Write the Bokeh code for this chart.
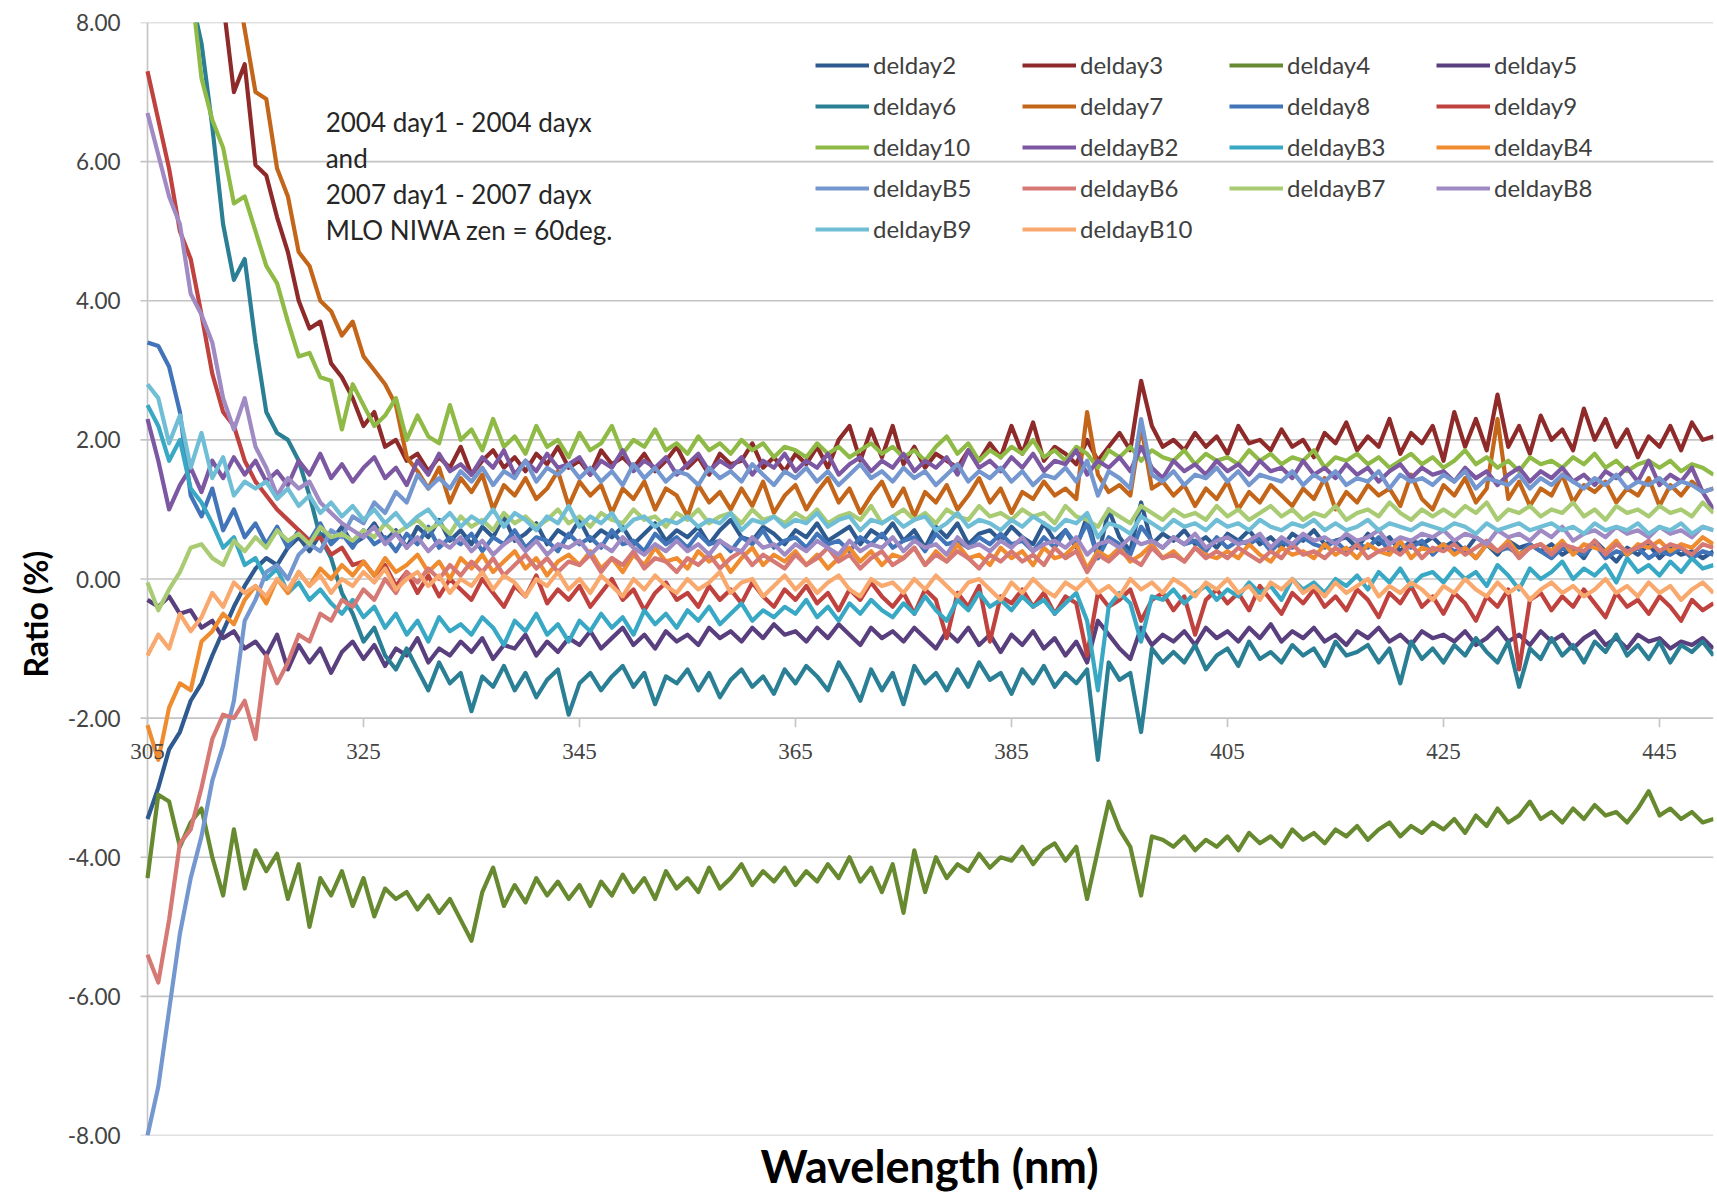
from bokeh.plotting import figure
from bokeh.models import (Range1d, FixedTicker, NumeralTickFormatter, Legend, LegendItem,
                          Label, LabelSet, ColumnDataSource, Title)
from bokeh.embed import file_html
from bokeh.resources import INLINE

FONT = "Lato"

WAVELENGTH = list(range(305, 451))
X_TICKS = [305, 325, 345, 365, 385, 405, 425, 445]
X_TICK_LABELS = ["305", "325", "345", "365", "385", "405", "425", "445"]
Y_TICKS = [-8, -6, -4, -2, 0, 2, 4, 6, 8]
AXIS_CROSS = -2.0

NAMES = ["delday2", "delday3", "delday4", "delday5", "delday6", "delday7",
         "delday8", "delday9", "delday10", "deldayB2", "deldayB3", "deldayB4",
         "deldayB5", "deldayB6", "deldayB7", "deldayB8", "deldayB9", "deldayB10"]
COLORS = ["#2F5A8F", "#8E2B2A", "#678A30", "#5A3F7E", "#2B7F95", "#C4661A",
          "#4174B8", "#C0423F", "#8EBA45", "#7C58A2", "#38A8C4", "#F08C30",
          "#7497D0", "#D67874", "#A9CB74", "#A08AC4", "#6FBED6", "#F9A86E"]

delday2 = [
    -3.45, -3.0, -2.45, -2.2, -1.75, -1.5, -1.1, -0.75, -0.4, -0.1,
    0.15, 0.3, 0.2, 0.45, 0.6, 0.4, 0.65, 0.55, 0.75, 0.5,
    0.6, 0.8, 0.55, 0.7, 0.45, 0.75, 0.6, 0.85, 0.55, 0.7,
    0.5, 0.75, 0.6, 0.9, 0.55, 0.65, 0.8, 0.5, 0.7, 0.6,
    0.85, 0.55, 0.7, 0.6, 0.75, 0.5, 0.65, 0.8, 0.55, 0.7,
    0.6, 0.75, 0.5, 0.7, 0.85, 0.6, 0.55, 0.75, 0.65, 0.5,
    0.7, 0.6, 0.8, 0.55, 0.65, 0.75, 0.5, 0.7, 0.6, 0.8,
    0.55, 0.7, 0.45, 0.75, 0.6, 0.8, 0.5, 0.65, 0.7, 0.55,
    0.75, 0.6, 0.5, 0.8, 0.55, 0.7, 0.45, 0.9, 0.3, 1.0,
    0.6, 0.4, 1.1, 0.5, 0.65, 0.55, 0.7, 0.5, 0.6, 0.45,
    0.65, 0.55, 0.7, 0.5, 0.6, 0.45, 0.65, 0.55, 0.7, 0.5,
    0.55, 0.6, 0.45, 0.65, 0.5, 0.6, 0.4, 0.55, 0.5, 0.6,
    0.45, 0.55, 0.4, 0.6, 0.5, 0.35, 0.55, 0.45, 0.5, 0.4,
    0.5, 0.35, 0.45, 0.3, 0.55, 0.4, 0.25, 0.45, 0.35, 0.5,
    0.3, 0.45, 0.35, 0.4, 0.3, 0.4]

delday3 = [
    13.5, 12.8, 12.0, 11.2, 10.4, 9.6, 8.9, 8.3, 7.0, 7.4,
    5.95, 5.8, 5.2, 4.7, 4.0, 3.6, 3.7, 3.1, 2.9, 2.6,
    2.2, 2.4, 1.9, 2.0, 1.7, 1.8, 1.55, 1.75, 1.6, 1.9,
    1.5, 1.7, 1.85, 1.6, 1.75, 1.55, 1.8, 1.65, 1.9, 1.6,
    1.7, 1.5, 1.85, 1.65, 1.75, 1.6, 1.8, 1.55, 1.7, 1.9,
    1.6, 1.75, 1.5, 1.8, 1.65, 1.7, 1.95, 1.6, 1.75, 1.55,
    1.8, 1.65, 1.9, 1.6, 2.0, 2.2, 1.7, 2.15, 1.75, 2.2,
    1.65, 1.9, 1.6, 1.8, 1.7, 1.6, 1.85, 1.7, 1.95, 1.75,
    2.2, 1.8, 2.25, 1.7, 1.9, 1.8, 1.65, 2.0, 1.7, 1.9,
    2.1, 1.85, 2.85, 2.2, 1.9, 2.0, 1.85, 2.1, 1.9, 2.05,
    1.8, 2.2, 1.95, 2.0, 1.85, 2.15, 1.9, 2.0, 1.75, 2.1,
    1.95, 2.25, 1.85, 2.05, 1.9, 2.3, 1.8, 2.1, 1.95, 2.2,
    1.7, 2.4, 1.9, 2.3, 1.85, 2.65, 1.9, 2.2, 1.8, 2.35,
    2.0, 2.15, 1.85, 2.45, 2.0, 2.3, 1.9, 2.15, 1.75, 2.05,
    1.9, 2.2, 1.85, 2.25, 2.0, 2.05]

delday4 = [
    -4.3, -3.1, -3.2, -3.85, -3.5, -3.3, -4.0, -4.55, -3.6, -4.45,
    -3.9, -4.2, -3.95, -4.6, -4.1, -5.0, -4.3, -4.55, -4.2, -4.7,
    -4.3, -4.85, -4.45, -4.6, -4.5, -4.75, -4.55, -4.8, -4.6, -4.9,
    -5.2, -4.5, -4.15, -4.7, -4.4, -4.65, -4.3, -4.55, -4.35, -4.6,
    -4.4, -4.7, -4.35, -4.55, -4.25, -4.5, -4.3, -4.6, -4.2, -4.45,
    -4.3, -4.5, -4.15, -4.45, -4.3, -4.1, -4.4, -4.2, -4.35, -4.15,
    -4.4, -4.2, -4.35, -4.1, -4.3, -4.0, -4.35, -4.15, -4.5, -4.1,
    -4.8, -3.9, -4.5, -4.0, -4.3, -4.1, -4.2, -3.95, -4.15, -4.0,
    -4.05, -3.85, -4.1, -3.9, -3.8, -4.05, -3.85, -4.6, -3.9, -3.2,
    -3.6, -3.85, -4.55, -3.7, -3.75, -3.85, -3.7, -3.9, -3.75, -3.85,
    -3.7, -3.9, -3.65, -3.8, -3.7, -3.85, -3.6, -3.75, -3.65, -3.8,
    -3.6, -3.7, -3.55, -3.75, -3.6, -3.5, -3.7, -3.55, -3.65, -3.5,
    -3.6, -3.45, -3.65, -3.4, -3.55, -3.3, -3.5, -3.4, -3.2, -3.45,
    -3.35, -3.5, -3.3, -3.45, -3.25, -3.4, -3.35, -3.5, -3.3, -3.05,
    -3.4, -3.3, -3.45, -3.35, -3.5, -3.45]

delday5 = [
    -0.3, -0.4, -0.25, -0.5, -0.45, -0.7, -0.6, -0.85, -0.75, -1.0,
    -0.9, -1.1, -0.8, -1.3, -0.95, -1.2, -1.0, -1.35, -1.05, -0.9,
    -1.15, -0.95, -1.25, -1.0, -1.1, -0.85, -1.2, -1.0, -1.1, -0.9,
    -1.05, -0.85, -1.15, -0.95, -1.0, -0.8, -1.1, -0.9, -1.05, -0.85,
    -0.95, -0.75, -1.0, -0.85, -0.7, -0.95, -0.8, -1.0, -0.75, -0.9,
    -0.8, -0.95, -0.7, -0.85, -0.75, -0.9, -0.7, -0.85, -0.65, -0.8,
    -0.75, -0.9, -0.7, -0.85, -0.65, -0.8, -0.95, -0.7, -0.85, -0.75,
    -0.9, -0.7, -0.85, -1.0, -0.75, -0.9, -0.7, -0.95, -0.8, -1.05,
    -0.8, -0.95, -0.75, -1.0, -0.85, -1.1, -0.9, -1.2, -0.6, -0.8,
    -1.0, -1.15, -0.7, -0.95, -0.8, -0.9, -0.75, -0.95, -0.7, -0.85,
    -0.75, -0.9, -0.7, -0.85, -0.65, -0.9, -0.75, -0.85, -0.7, -0.9,
    -0.8, -0.95, -0.75, -0.85, -0.7, -0.9, -0.8, -0.95, -0.75, -0.85,
    -0.8, -0.9, -0.75, -0.95, -0.85, -0.7, -0.9, -0.8, -0.95, -0.75,
    -0.9, -0.8, -1.0, -0.85, -0.75, -0.95, -0.85, -1.0, -0.8, -0.9,
    -0.85, -1.0, -0.9, -0.95, -0.85, -1.0]

delday6 = [
    12.5, 11.6, 10.7, 9.8, 8.4, 7.7, 6.5, 5.1, 4.3, 4.6,
    3.4, 2.4, 2.1, 2.0, 1.7, 1.2, 0.6, 0.3, -0.2, -0.5,
    -0.9, -0.7, -1.1, -1.3, -1.0, -1.3, -1.6, -1.2, -1.5, -1.35,
    -1.9, -1.4, -1.55, -1.25, -1.6, -1.35, -1.7, -1.45, -1.3, -1.95,
    -1.5, -1.35, -1.6, -1.4, -1.25, -1.55, -1.35, -1.8, -1.4, -1.5,
    -1.3, -1.6, -1.35, -1.7, -1.45, -1.3, -1.55, -1.4, -1.65, -1.3,
    -1.5, -1.25, -1.4, -1.6, -1.2, -1.45, -1.75, -1.3, -1.6, -1.35,
    -1.8, -1.25, -1.5, -1.35, -1.6, -1.3, -1.55, -1.2, -1.45, -1.35,
    -1.65, -1.3, -1.5, -1.25, -1.55, -1.35, -1.5, -1.3, -2.6, -1.2,
    -1.45, -1.35, -2.2, -1.0, -1.2, -1.05, -1.2, -0.95, -1.3, -1.1,
    -1.0, -1.25, -0.9, -1.15, -1.05, -1.2, -0.95, -1.1, -1.0, -1.25,
    -0.9, -1.1, -1.05, -0.95, -1.2, -1.0, -1.5, -0.9, -1.15, -1.0,
    -1.2, -0.95, -1.1, -0.85, -1.05, -1.2, -0.9, -1.55, -1.0, -1.15,
    -0.85, -1.1, -0.95, -1.2, -0.9, -1.05, -0.8, -1.1, -0.95, -1.15,
    -0.9, -1.2, -0.95, -1.05, -0.9, -1.1]

delday7 = [
    16.0, 15.0, 14.0, 13.0, 12.2, 11.3, 10.4, 9.6, 8.8, 7.9,
    7.0, 6.9, 5.9, 5.5, 4.7, 4.5, 4.0, 3.85, 3.5, 3.7,
    3.2, 3.0, 2.8, 2.5, 1.75, 1.55, 1.3, 1.6, 1.1, 1.45,
    1.25, 1.5, 1.0, 1.35, 1.2, 1.45, 1.15, 1.3, 1.55, 1.05,
    1.4, 1.2, 1.35, 0.95, 1.3, 1.15, 1.4, 1.0, 1.3, 1.2,
    0.9, 1.35, 1.1, 1.25, 1.0, 1.3, 1.05, 1.4, 0.95, 1.2,
    1.35, 1.0, 1.25, 1.45, 1.1, 1.3, 0.95, 1.2, 1.4, 1.05,
    1.3, 0.9, 1.25, 1.1, 1.35, 1.0, 1.2, 1.45, 1.1, 1.3,
    0.95, 1.25, 1.15, 1.4, 1.2, 1.3, 1.15, 2.4, 1.5, 1.25,
    1.35, 1.2, 2.2, 1.3, 1.4, 1.2, 1.35, 1.05, 1.3, 1.15,
    1.4, 1.0, 1.25, 1.1, 1.35, 1.2, 1.05, 1.3, 1.15, 1.45,
    1.0, 1.25, 1.1, 1.35, 1.2, 1.3, 1.05, 1.5, 1.15, 1.0,
    1.35, 1.2, 1.45, 1.1, 1.3, 2.3, 1.15, 1.4, 1.05, 1.3,
    1.2, 1.5, 1.1, 1.35, 1.25, 1.4, 1.1, 1.3, 1.2, 1.45,
    1.05, 1.35, 1.2, 1.4, 1.25, 1.3]

delday8 = [
    3.4, 3.35, 3.05, 2.4, 1.2, 0.9, 1.3, 0.7, 1.0, 0.6,
    0.8, 0.5, 0.75, 0.45, 0.7, 0.55, 0.8, 0.5, 0.65, 0.45,
    0.7, 0.5, 0.6, 0.4, 0.65, 0.5, 0.75, 0.45, 0.6, 0.5,
    0.65, 0.4, 0.6, 0.5, 0.7, 0.45, 0.6, 0.55, 0.4, 0.65,
    0.5, 0.6, 0.45, 0.7, 0.5, 0.55, 0.4, 0.65, 0.5, 0.6,
    0.45, 0.65, 0.5, 0.55, 0.4, 0.6, 0.5, 0.7, 0.45, 0.55,
    0.6, 0.45, 0.65, 0.5, 0.55, 0.4, 0.6, 0.5, 0.65, 0.45,
    0.55, 0.6, 0.4, 0.65, 0.5, 0.55, 0.45, 0.6, 0.5, 0.65,
    0.5, 0.55, 0.4, 0.6, 0.45, 0.7, 0.5, 0.8, 0.3, 0.6,
    0.5, 0.35, 0.75, 0.55, 0.45, 0.6, 0.5, 0.55, 0.4, 0.6,
    0.45, 0.55, 0.5, 0.6, 0.4, 0.55, 0.45, 0.6, 0.5, 0.45,
    0.55, 0.4, 0.5, 0.45, 0.6, 0.4, 0.5, 0.45, 0.55, 0.35,
    0.5, 0.4, 0.45, 0.3, 0.5, 0.4, 0.45, 0.35, 0.5, 0.4,
    0.3, 0.45, 0.4, 0.35, 0.5, 0.3, 0.4, 0.35, 0.45, 0.3,
    0.4, 0.35, 0.45, 0.3, 0.4, 0.35]

delday9 = [
    7.3, 6.6, 5.9, 5.0, 4.6, 3.8, 2.95, 2.4, 2.2, 1.7,
    1.4, 1.2, 1.0, 0.85, 0.7, 0.55, 0.6, 0.35, 0.45, 0.2,
    0.25, 0.05, 0.2, -0.1, 0.1, -0.2, 0.05, -0.25, 0.0, -0.15,
    -0.3, 0.0, -0.2, -0.4, -0.1, -0.25, 0.05, -0.35, -0.15, -0.3,
    -0.1, -0.4, -0.2, 0.0, -0.3, -0.15, -0.45, -0.2, -0.05, -0.3,
    -0.2, -0.4, -0.1, -0.3, -0.15, -0.35, -0.05, -0.25, -0.4, -0.15,
    -0.3, -0.1, -0.35, -0.2, -0.45, -0.15, -0.3, -0.05, -0.25, -0.4,
    -0.2, -0.5, -0.15, -0.3, -0.85, -0.2, -0.4, -0.1, -0.9, -0.25,
    -0.35, -0.15, -0.4, -0.2, -0.5, -0.25, -0.35, -1.1, -0.2, -0.4,
    -0.3, -0.15, -0.6, -0.3, -0.2, -0.45, -0.25, -0.8, -0.3, -0.15,
    -0.35, -0.2, -0.45, -0.1, -0.3, -0.5, -0.2, -0.35, -0.15, -0.4,
    -0.25, -0.45, -0.15, -0.3, -0.55, -0.2, -0.35, -0.1, -0.4, -0.25,
    -0.5, -0.2, -0.35, -0.6, -0.25, -0.4, -0.15, -1.3, -0.3, -0.2,
    -0.45, -0.25, -0.4, -0.15, -0.35, -0.55, -0.2, -0.4, -0.3, -0.5,
    -0.25, -0.4, -0.6, -0.3, -0.45, -0.35]

delday10 = [
    12.8, 11.8, 10.8, 9.8, 8.6, 7.2, 6.6, 6.2, 5.4, 5.5,
    5.0, 4.5, 4.25, 3.7, 3.2, 3.25, 2.9, 2.85, 2.15, 2.8,
    2.5, 2.2, 2.35, 2.6, 2.0, 2.35, 2.05, 1.95, 2.5, 2.0,
    2.15, 1.85, 2.3, 1.9, 2.05, 1.8, 2.2, 1.9, 2.0, 1.75,
    2.1, 1.85, 1.95, 2.2, 1.8, 2.0, 1.9, 2.15, 1.85, 1.95,
    1.8, 2.05, 1.85, 1.95, 1.8, 2.0, 1.85, 1.95, 1.75, 1.9,
    1.85, 1.75, 1.95, 1.8, 1.9, 1.75, 1.85, 1.95, 1.8, 1.9,
    1.75, 1.85, 1.7, 1.9, 2.05, 1.8, 1.95, 1.7, 1.85, 1.75,
    1.9, 1.8, 2.0, 1.75, 1.85, 1.7, 1.9, 1.8, 1.6, 1.85,
    1.75, 1.9, 1.7, 1.85, 1.75, 1.7, 1.85, 1.65, 1.8, 1.7,
    1.75, 1.65, 1.85, 1.7, 1.8, 1.65, 1.75, 1.7, 1.85, 1.6,
    1.75, 1.7, 1.8, 1.65, 1.75, 1.6, 1.7, 1.8, 1.65, 1.75,
    1.6, 1.7, 1.85, 1.65, 1.75, 1.6, 1.7, 1.55, 1.75, 1.65,
    1.7, 1.6, 1.75, 1.65, 1.8, 1.6, 1.7, 1.55, 1.65, 1.7,
    1.6, 1.7, 1.55, 1.65, 1.6, 1.5]

deldayB2 = [
    2.3, 1.7, 1.0, 1.35, 1.6, 1.25, 1.7, 1.45, 1.75, 1.5,
    1.7, 1.4, 1.55, 1.35, 1.7, 1.5, 1.8, 1.45, 1.65, 1.4,
    1.6, 1.75, 1.45, 1.6, 1.35, 1.7, 1.5, 1.8, 1.55, 1.65,
    1.5, 1.75, 1.6, 1.85, 1.5, 1.7, 1.55, 1.8, 1.6, 1.65,
    1.75, 1.5, 1.7, 1.6, 1.85, 1.55, 1.7, 1.6, 1.75, 1.5,
    1.65, 1.8, 1.55, 1.7, 1.6, 1.75, 1.5, 1.7, 1.6, 1.8,
    1.55, 1.7, 1.6, 1.8, 1.5, 1.65, 1.75, 1.55, 1.7, 1.6,
    1.8, 1.55, 1.7, 1.6, 1.75, 1.5, 1.85, 1.6, 1.7, 1.55,
    1.75, 1.6, 1.8, 1.55, 1.7, 1.65, 1.85, 1.5, 1.7, 1.6,
    1.75, 1.55, 1.9, 1.6, 1.45, 1.7, 1.55, 1.65, 1.5, 1.7,
    1.55, 1.65, 1.5, 1.7, 1.55, 1.6, 1.45, 1.7, 1.5, 1.6,
    1.45, 1.65, 1.5, 1.6, 1.4, 1.55, 1.65, 1.45, 1.6, 1.5,
    1.55, 1.4, 1.6, 1.45, 1.55, 1.35, 1.5, 1.6, 1.4, 1.55,
    1.45, 1.6, 1.4, 1.5, 1.35, 1.55, 1.45, 1.6, 1.4, 1.7,
    1.35, 1.5, 1.4, 1.6, 1.25, 1.0]

deldayB3 = [
    2.5, 2.2, 1.7, 2.0, 1.3, 1.1, 0.8, 0.45, 0.6, 0.2,
    0.3, 0.0, 0.15, -0.2, -0.05, -0.3, -0.15, -0.35, -0.5, -0.3,
    -0.55, -0.4, -0.7, -0.5, -0.8, -0.6, -0.9, -0.55, -0.75, -0.65,
    -0.8, -0.55, -0.7, -0.95, -0.6, -0.75, -0.5, -0.8, -0.65, -0.9,
    -0.6, -0.75, -0.5, -0.7, -0.55, -0.8, -0.45, -0.65, -0.5, -0.7,
    -0.45, -0.6, -0.4, -0.65, -0.5, -0.35, -0.6, -0.45, -0.55, -0.4,
    -0.5, -0.3, -0.55, -0.4, -0.6, -0.35, -0.5, -0.3, -0.45, -0.55,
    -0.35, -0.5, -0.25, -0.45, -0.6, -0.3, -0.45, -0.2, -0.4, -0.3,
    -0.45, -0.25, -0.4, -0.3, -0.5, -0.35, -0.2, -0.6, -1.6, -0.4,
    -0.2, -0.35, -0.9, -0.25, -0.3, -0.15, -0.35, -0.2, -0.1, -0.3,
    -0.15, -0.25, -0.05, -0.2, -0.1, -0.3, 0.0, -0.15, -0.05, -0.2,
    0.0, -0.1, 0.05, -0.15, 0.1, -0.05, 0.15, -0.1, 0.05, 0.1,
    -0.05, 0.15, 0.0, 0.1, -0.1, 0.2, 0.05, -0.15, 0.15, 0.0,
    0.1, 0.25, 0.0, 0.15, 0.05, 0.2, -0.05, 0.3, 0.1, 0.2,
    0.05, 0.25, 0.1, 0.3, 0.15, 0.2]

deldayB4 = [
    -2.1, -2.6, -1.85, -1.5, -1.6, -0.9, -0.75, -0.5, -0.65, -0.3,
    -0.1, -0.35, 0.0, -0.2, 0.1, -0.1, 0.15, 0.0, 0.2, 0.05,
    0.25, 0.05, 0.3, 0.1, 0.2, 0.35, 0.1, 0.25, 0.0, 0.3,
    0.15, 0.35, 0.1, 0.25, 0.4, 0.15, 0.3, 0.05, 0.25, 0.35,
    0.2, 0.4, 0.15, 0.3, 0.1, 0.35, 0.2, 0.45, 0.25, 0.3,
    0.15, 0.4, 0.25, 0.35, 0.1, 0.3, 0.45, 0.2, 0.35, 0.25,
    0.4, 0.2, 0.35, 0.15, 0.3, 0.45, 0.25, 0.4, 0.2, 0.35,
    0.3, 0.45, 0.2, 0.4, 0.25, 0.5, 0.3, 0.35, 0.2, 0.45,
    0.3, 0.4, 0.2, 0.45, 0.3, 0.35, 0.5, 0.15, 0.4, 0.3,
    0.45, 0.25, 0.35, 0.5, 0.3, 0.4, 0.25, 0.45, 0.35, 0.3,
    0.4, 0.3, 0.5, 0.35, 0.25, 0.45, 0.35, 0.4, 0.3, 0.5,
    0.35, 0.45, 0.3, 0.5, 0.4, 0.35, 0.55, 0.3, 0.45, 0.4,
    0.5, 0.35, 0.45, 0.3, 0.5, 0.4, 0.55, 0.35, 0.45, 0.5,
    0.4, 0.55, 0.35, 0.5, 0.45, 0.4, 0.55, 0.35, 0.5, 0.45,
    0.55, 0.4, 0.5, 0.45, 0.6, 0.5]

deldayB5 = [
    -8.0, -7.3, -6.2, -5.1, -4.3, -3.7, -2.9, -2.4, -1.75, -0.6,
    -0.3, 0.1, 0.2, 0.0, 0.35, 0.5, 0.4, 0.7, 0.6, 0.9,
    0.8, 1.1, 0.95, 1.25, 1.1, 1.5, 1.3, 1.45, 1.3, 1.55,
    1.4, 1.6, 1.35, 1.55, 1.45, 1.7, 1.4, 1.6, 1.5, 1.65,
    1.45, 1.6, 1.4, 1.55, 1.35, 1.65, 1.45, 1.6, 1.4, 1.55,
    1.5, 1.35, 1.6, 1.45, 1.55, 1.4, 1.65, 1.5, 1.35, 1.55,
    1.45, 1.6, 1.4, 1.55, 1.35, 1.5, 1.65, 1.45, 1.55, 1.4,
    1.6, 1.45, 1.55, 1.35, 1.5, 1.65, 1.4, 1.55, 1.45, 1.6,
    1.4, 1.55, 1.35, 1.5, 1.45, 1.6, 1.4, 1.7, 1.2, 1.55,
    1.45, 1.3, 2.3, 1.5, 1.4, 1.55, 1.35, 1.5, 1.45, 1.6,
    1.4, 1.55, 1.35, 1.5, 1.45, 1.4, 1.55, 1.35, 1.5, 1.4,
    1.55, 1.35, 1.45, 1.4, 1.55, 1.3, 1.5, 1.4, 1.45, 1.35,
    1.5, 1.4, 1.55, 1.3, 1.45, 1.4, 1.35, 1.5, 1.3, 1.45,
    1.35, 1.5, 1.4, 1.3, 1.45, 1.35, 1.5, 1.3, 1.4, 1.35,
    1.45, 1.3, 1.4, 1.35, 1.25, 1.3]

deldayB6 = [
    -5.4, -5.8, -4.9, -3.8, -3.6, -3.0, -2.3, -1.95, -2.0, -1.75,
    -2.3, -1.1, -1.5, -1.2, -0.8, -0.9, -0.5, -0.6, -0.3, -0.4,
    -0.15, -0.3, 0.0, -0.2, 0.1, -0.05, 0.15, 0.0, 0.2, 0.05,
    0.25, 0.1, 0.3, 0.05, 0.2, 0.35, 0.15, 0.3, 0.1, 0.25,
    0.2, 0.35, 0.1, 0.3, 0.2, 0.4, 0.15, 0.3, 0.25, 0.1,
    0.3, 0.2, 0.35, 0.15, 0.3, 0.4, 0.2, 0.35, 0.25, 0.15,
    0.35, 0.2, 0.3, 0.45, 0.25, 0.35, 0.15, 0.3, 0.4, 0.2,
    0.3, 0.45, 0.2, 0.35, 0.25, 0.4, 0.3, 0.15, 0.35, 0.25,
    0.4, 0.25, 0.35, 0.2, 0.45, 0.3, 0.4, 0.1, 0.35, 0.25,
    0.4, 0.3, 0.2, 0.45, 0.3, 0.35, 0.25, 0.45, 0.3, 0.4,
    0.3, 0.45, 0.35, 0.25, 0.4, 0.3, 0.5, 0.35, 0.4, 0.3,
    0.45, 0.35, 0.5, 0.3, 0.4, 0.45, 0.35, 0.5, 0.3, 0.45,
    0.4, 0.5, 0.35, 0.45, 0.55, 0.4, 0.5, 0.3, 0.45, 0.5,
    0.35, 0.5, 0.45, 0.4, 0.55, 0.35, 0.5, 0.4, 0.45, 0.55,
    0.4, 0.5, 0.45, 0.35, 0.5, 0.45]

deldayB7 = [
    -0.05, -0.45, -0.15, 0.1, 0.45, 0.5, 0.3, 0.2, 0.55, 0.4,
    0.6, 0.45, 0.7, 0.55, 0.65, 0.5, 0.75, 0.6, 0.65, 0.55,
    0.7, 0.6, 0.8, 0.65, 0.75, 0.85, 0.7, 0.8, 0.65, 0.9,
    0.75, 0.85, 0.7, 0.95, 0.8, 0.9, 0.75, 0.85, 1.0, 0.8,
    0.9, 0.75, 0.95, 0.85, 0.8, 1.0, 0.85, 0.9, 0.75, 0.95,
    0.85, 1.0, 0.8, 0.9, 0.95, 0.8, 1.0, 0.85, 0.9, 0.8,
    0.95, 0.85, 1.0, 0.8, 0.9, 0.95, 0.85, 1.05, 0.8, 0.9,
    1.0, 0.85, 0.95, 0.8, 1.0, 0.9, 0.85, 1.05, 0.9, 0.95,
    0.85, 1.0, 0.9, 0.95, 0.8, 1.05, 0.9, 0.85, 0.75, 1.0,
    0.9, 0.8, 1.05, 0.95, 0.85, 1.0, 0.9, 0.95, 0.85, 1.05,
    0.9, 1.0, 0.85, 0.95, 1.05, 0.9, 1.0, 0.85, 0.95, 0.9,
    1.05, 0.85, 0.95, 1.0, 0.9, 1.1, 0.95, 0.85, 1.0, 0.9,
    1.0, 0.9, 1.05, 0.95, 1.1, 0.85, 1.0, 0.95, 1.05, 0.9,
    1.0, 0.95, 1.1, 0.9, 1.0, 0.85, 1.05, 0.95, 1.0, 0.9,
    1.05, 0.95, 1.0, 0.9, 1.1, 0.95]

deldayB8 = [
    6.7, 6.1, 5.5, 5.1, 4.1, 3.8, 3.4, 2.6, 2.15, 2.6,
    1.9, 1.6, 1.2, 1.45, 1.3, 1.4, 1.1, 0.95, 0.8, 0.7,
    0.6, 0.75, 0.5, 0.65, 0.45, 0.6, 0.4, 0.55, 0.45, 0.6,
    0.4, 0.55, 0.35, 0.5, 0.6, 0.4, 0.55, 0.35, 0.5, 0.45,
    0.55, 0.35, 0.5, 0.4, 0.6, 0.45, 0.35, 0.5, 0.4, 0.55,
    0.4, 0.5, 0.35, 0.55, 0.45, 0.4, 0.6, 0.45, 0.5, 0.35,
    0.5, 0.4, 0.55, 0.45, 0.35, 0.55, 0.4, 0.5, 0.45, 0.6,
    0.4, 0.55, 0.45, 0.5, 0.35, 0.6, 0.45, 0.5, 0.4, 0.55,
    0.45, 0.6, 0.4, 0.5, 0.55, 0.45, 0.6, 0.35, 0.5, 0.55,
    0.45, 0.6, 0.5, 0.55, 0.45, 0.6, 0.5, 0.65, 0.45, 0.55,
    0.6, 0.5, 0.55, 0.65, 0.45, 0.6, 0.5, 0.65, 0.55, 0.6,
    0.5, 0.65, 0.55, 0.6, 0.7, 0.5, 0.6, 0.55, 0.65, 0.6,
    0.7, 0.55, 0.65, 0.6, 0.5, 0.7, 0.6, 0.65, 0.55, 0.7,
    0.6, 0.75, 0.55, 0.65, 0.7, 0.6, 0.75, 0.65, 0.7, 0.6,
    0.75, 0.65, 0.7, 0.6, 0.75, 0.7]

deldayB9 = [
    2.8, 2.6, 1.95, 2.35, 1.6, 2.1, 1.45, 1.75, 1.2, 1.4,
    1.3, 1.4, 1.15, 1.3, 1.05, 1.2, 0.95, 1.1, 0.9, 1.05,
    0.85, 1.0, 0.8, 0.95, 0.75, 0.9, 1.0, 0.8, 0.95, 0.75,
    0.9, 0.8, 1.0, 0.75, 0.95, 0.85, 0.7, 0.9, 0.8, 1.05,
    0.75, 0.9, 0.8, 0.95, 0.7, 0.85, 0.9, 0.75, 0.85, 0.8,
    0.9, 0.75, 0.85, 0.8, 0.95, 0.7, 0.85, 0.8, 0.9, 0.75,
    0.85, 0.8, 0.95, 0.75, 0.85, 0.9, 0.7, 0.85, 0.8, 0.9,
    0.75, 0.85, 0.9, 0.7, 0.8, 0.95, 0.75, 0.85, 0.8, 0.7,
    0.85, 0.75, 0.9, 0.8, 0.7, 0.85, 0.8, 0.95, 0.6, 0.8,
    0.75, 0.65, 0.9, 0.8, 0.7, 0.85, 0.75, 0.8, 0.7, 0.85,
    0.75, 0.8, 0.7, 0.85, 0.75, 0.7, 0.8, 0.75, 0.85, 0.7,
    0.8, 0.7, 0.75, 0.85, 0.7, 0.8, 0.75, 0.7, 0.8, 0.75,
    0.7, 0.8, 0.75, 0.65, 0.8, 0.7, 0.75, 0.8, 0.7, 0.75,
    0.8, 0.7, 0.75, 0.65, 0.8, 0.7, 0.75, 0.7, 0.8, 0.65,
    0.75, 0.7, 0.8, 0.65, 0.75, 0.7]

deldayB10 = [
    -1.1, -0.8, -1.0, -0.5, -0.75, -0.55, -0.2, -0.4, -0.05, -0.2,
    -0.1, -0.25, 0.0, -0.15, 0.1, -0.1, 0.05, -0.2, 0.0, -0.1,
    0.1, -0.05, 0.15, -0.15, 0.0, 0.1, -0.1, 0.05, -0.2, 0.0,
    -0.1, 0.1, -0.15, 0.05, -0.05, -0.25, 0.0, -0.1, 0.1, -0.15,
    0.0, -0.2, 0.05, -0.1, -0.25, 0.0, -0.15, 0.05, -0.1, -0.2,
    0.0, -0.15, -0.05, 0.1, -0.2, -0.05, 0.0, -0.25, -0.1, 0.05,
    -0.15, 0.0, -0.2, -0.05, 0.05, -0.15, -0.25, 0.0, -0.1, -0.05,
    -0.2, 0.0, -0.15, 0.05, -0.1, -0.25, -0.05, 0.0, -0.15, -0.3,
    -0.05, -0.2, 0.0, -0.15, -0.25, -0.05, -0.15, 0.0, -0.2, -0.1,
    -0.25, 0.0, -0.15, -0.05, -0.2, 0.0, -0.1, -0.25, -0.05, -0.15,
    0.0, -0.2, -0.1, -0.3, -0.05, -0.15, 0.0, -0.2, -0.1, -0.25,
    -0.05, -0.2, -0.1, 0.0, -0.25, -0.1, -0.2, -0.05, -0.15, -0.3,
    -0.1, -0.2, 0.0, -0.15, -0.25, -0.05, -0.2, -0.1, -0.3, -0.15,
    -0.05, -0.2, -0.1, -0.25, -0.15, 0.0, -0.2, -0.1, -0.25, -0.05,
    -0.2, -0.1, -0.3, -0.15, -0.05, -0.2]

SERIES = [delday2, delday3, delday4, delday5, delday6, delday7, delday8, delday9,
          delday10, deldayB2, deldayB3, deldayB4, deldayB5, deldayB6, deldayB7,
          deldayB8, deldayB9, deldayB10]

ANNOTATION = "2004 day1 - 2004 dayx\nand\n2007 day1 - 2007 dayx\nMLO NIWA zen = 60deg."
Y_TITLE = "Ratio (%)"
X_TITLE = "Wavelength (nm)"

GRID = "#C4C4C4"
TICK_TEXT = "#444444"

X_FIRST = WAVELENGTH[0]
X_LAST = WAVELENGTH[-1]
Y_LO = Y_TICKS[0]
Y_HI = Y_TICKS[-1]

# frame starts a little left of the value axis so the first category label is not clipped
p = figure(width=1717, height=1195, output_backend="svg", toolbar_location=None,
           x_range=Range1d(X_FIRST - 2.5, X_LAST), y_range=Range1d(Y_LO, Y_HI),
           min_border_left=120, min_border_top=22, min_border_right=4,
           min_border_bottom=60, background_fill_color="white",
           border_fill_color="white")
p.outline_line_color = None
p.xgrid.visible = False
p.ygrid.visible = False
p.xaxis.visible = False

# value axis: labels only (axis line, ticks and gridlines drawn at the first category)
ya = p.yaxis[0]
ya.ticker = FixedTicker(ticks=Y_TICKS)
ya.formatter = NumeralTickFormatter(format="0.00")
ya.axis_line_color = None
ya.major_tick_line_color = None
ya.minor_tick_line_color = None
ya.major_tick_in = 0
ya.major_tick_out = 0
ya.major_label_standoff = 0
ya.major_label_text_font = FONT
ya.major_label_text_font_size = "22.5px"
ya.major_label_text_color = TICK_TEXT

n_y = len(Y_TICKS)
p.segment(x0=[X_FIRST] * n_y, y0=Y_TICKS, x1=[X_LAST] * n_y, y1=Y_TICKS,
          line_color=GRID, line_width=1.6)
p.segment(x0=[X_FIRST], y0=[Y_LO], x1=[X_FIRST], y1=[Y_HI], line_color=GRID,
          line_width=1.6)
p.ray(x=[X_FIRST] * n_y, y=Y_TICKS, length=7, length_units="screen",
      angle=3.14159, line_color=GRID, line_width=1.6)

# horizontal category axis crossing at y = -2
n_t = len(X_TICKS)
p.ray(x=X_TICKS, y=[AXIS_CROSS] * n_t, length=9, length_units="screen",
      angle=-1.5708, line_color=GRID, line_width=1.6)
tick_src = ColumnDataSource(dict(x=X_TICKS, y=[AXIS_CROSS] * n_t, t=X_TICK_LABELS))
p.add_layout(LabelSet(x="x", y="y", text="t", source=tick_src, text_align="center",
                      text_baseline="middle", y_offset=-33, text_font=FONT,
                      text_font_size="23px", text_color=TICK_TEXT))

items = []
for name, color, vals in zip(NAMES, COLORS, SERIES):
    r = p.line(WAVELENGTH[:len(vals)], vals, line_color=color, line_width=4.2,
               line_join="round")
    items.append(LegendItem(label=name, renderers=[r]))

legend = Legend(items=items, orientation="horizontal", ncols=4,
                location=(695, 892), padding=0, margin=0, spacing=12,
                glyph_width=54, glyph_height=22, label_height=22,
                label_width=137, label_standoff=4,
                label_text_font=FONT, label_text_font_size="24px",
                label_text_color="#404040", border_line_color=None,
                background_fill_alpha=0)
p.add_layout(legend)

note = Label(x=321.5, y=6.8, text=ANNOTATION, text_font=FONT,
             text_font_size="26px", text_color="#262626", text_baseline="top",
             text_line_height=1.13)
p.add_layout(note)

ytitle = Title(text=Y_TITLE, align="left", offset=458, text_font=FONT,
               text_font_size="32px", text_font_style="bold", text_color="black",
               standoff=20)
p.add_layout(ytitle, "left")

xtitle = Title(text=X_TITLE, align="left", offset=640, text_font=FONT,
               text_font_size="45px", text_font_style="bold", text_color="black",
               standoff=3)
p.add_layout(xtitle, "below")

open("out.html", "w").write(file_html(p, INLINE))
